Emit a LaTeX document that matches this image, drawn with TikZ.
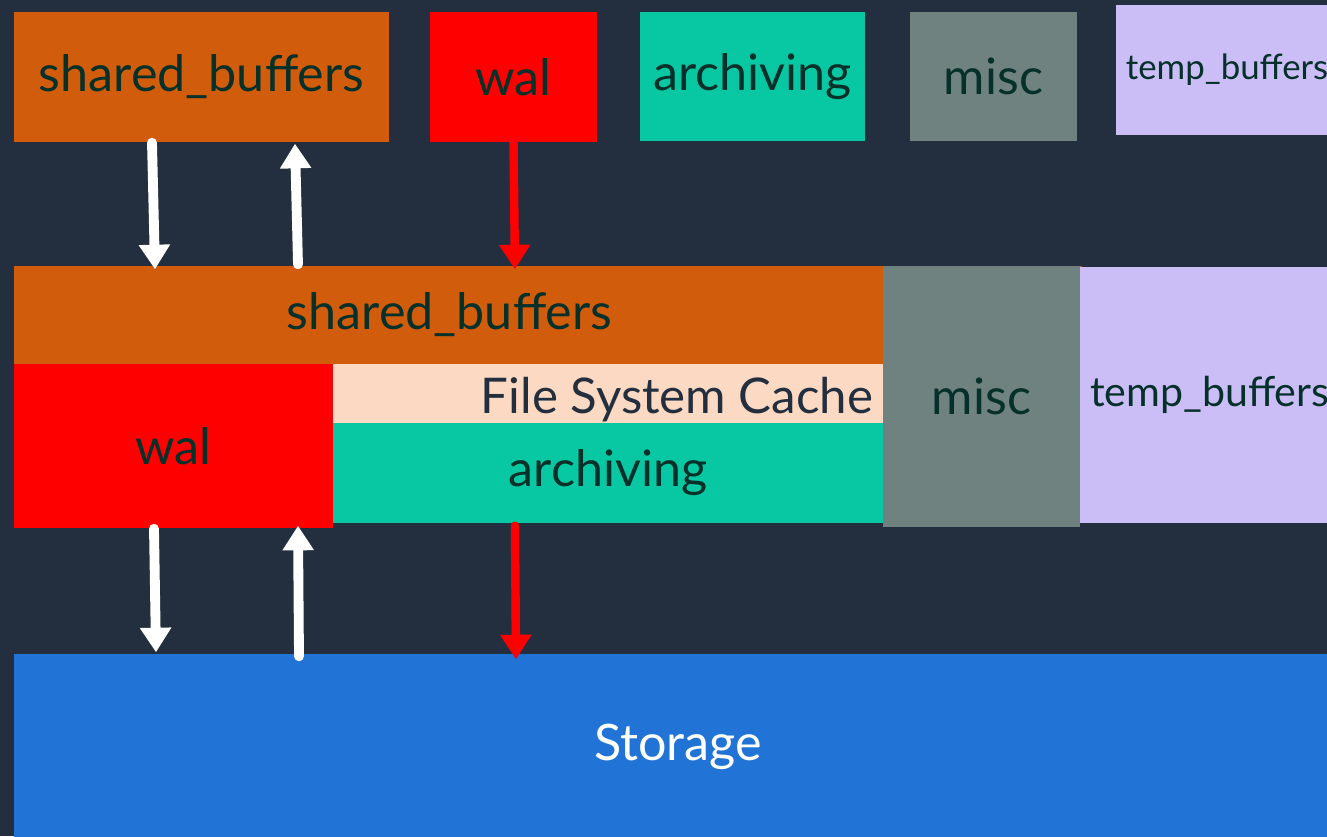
\documentclass[tikz,border=0pt]{standalone}
\usepackage{fontspec}
\setmainfont{Lato}
\usepackage{tikz}
\usetikzlibrary{arrows.meta, positioning, calc}
\definecolor{bgnavy}{HTML}{232F3E}
\definecolor{sborange}{HTML}{D05C0C}
\definecolor{walred}{HTML}{FF0000}
\definecolor{archteal}{HTML}{07C8A2}
\definecolor{miscgray}{HTML}{6F8280}
\definecolor{templav}{HTML}{CBBDF6}
\definecolor{fscpeach}{HTML}{FCD9C2}
\definecolor{storblue}{HTML}{2174D6}
\definecolor{txtdark}{HTML}{06302A}
\tikzstyle{block} = [rectangle, inner sep=0pt, text=txtdark, font=\fontsize{14.3}{16}\selectfont]
\tikzstyle{sbbox} = [block, fill=sborange]
\tikzstyle{walbox} = [block, fill=walred]
\tikzstyle{archbox} = [block, fill=archteal]
\tikzstyle{miscbox} = [block, fill=miscgray]
\tikzstyle{tempbox} = [block, fill=templav]
\tikzstyle{fscbox} = [block, fill=fscpeach]
\tikzstyle{storbox} = [block, fill=storblue, text=white]
\tikzstyle{warrow} = [line width=2.8pt, white, line cap=round, -{Triangle[width=8.5pt,length=7pt]}]
\tikzstyle{rarrow} = [line width=2.4pt, walred, line cap=round, -{Triangle[width=8.5pt,length=7pt]}]
\begin{document}
\begin{tikzpicture}
		\fill[bgnavy] (0,0) rectangle (13.27,-8.36);
		\useasboundingbox (0,0) rectangle (13.27,-8.36);
		
		% top row
		\node (sbtop) [sbbox, minimum width=3.75cm, minimum height=1.30cm] at (2.015,-0.77) {shared\_buffers};
		
		\node (waltop) [walbox, minimum width=1.67cm, minimum height=1.30cm] at (5.135,-0.77) {wal};
		
		\node (archtop) [archbox, minimum width=2.25cm, minimum height=1.29cm] at (7.525,-0.765) {archiving};
		
		\node (misctop) [miscbox, minimum width=1.67cm, minimum height=1.29cm] at (9.935,-0.765) {misc};
		
		\node (temptop) [tempbox, minimum width=2.22cm, minimum height=1.30cm, font=\fontsize{9.9}{12}\selectfont] at (12.27,-0.70) {temp\_buffers};
		
		% memory
		\fill[sborange] (8.85,-2.66) rectangle (10.82,-3.63);
		
		\node (sbmid) [sbbox, minimum width=8.71cm, minimum height=0.98cm] at (4.495,-3.15) {shared\_buffers};
		
		\node (fsc) [fscbox, minimum width=5.50cm, minimum height=0.59cm] at (6.08,-3.935) {};
		\node (fsctext) [anchor=east, inner sep=0pt, text=bgnavy, font=\fontsize{14}{16}\selectfont, xshift=-0.10cm, yshift=-0.06cm] at (fsc.east) {File System Cache};
		
		\node (archmid) [archbox, minimum width=5.50cm, minimum height=1.00cm] at (6.08,-4.73) {archiving};
		
		\node (walmid) [walbox, minimum width=3.19cm, minimum height=1.64cm] at (1.735,-4.46) {wal};
		
		\node (miscmid) [miscbox, minimum width=1.97cm, minimum height=2.61cm] at (9.815,-3.965) {misc};
		
		\node (tempmid) [tempbox, inner xsep=0.10cm, text width=2.27cm, align=left, minimum height=2.56cm, font=\fontsize{11.7}{14}\selectfont] at (12.035,-3.95) {temp\_buffers};
		
		% disk
		\node (stor) [storbox, minimum width=13.28cm, minimum height=1.86cm] at (6.78,-7.47) {Storage};
		
		\draw [warrow] ([xshift=-0.495cm]sbtop.south) -- ([xshift=-2.945cm,yshift=-0.04cm]sbmid.north);
		\draw [warrow] ([xshift=-1.515cm,yshift=0.01cm]sbmid.north) -- ([xshift=0.935cm,yshift=-0.01cm]sbtop.south);
		\draw [rarrow] (waltop.south) -- ([xshift=0.655cm,yshift=-0.04cm]sbmid.north);
		\draw [warrow] ([xshift=-0.195cm]walmid.south) -- ([xshift=-5.22cm,yshift=0.01cm]stor.north);
		\draw [warrow] ([xshift=-3.79cm,yshift=-0.03cm]stor.north) -- ([xshift=1.245cm,yshift=0.03cm]walmid.south);
		\draw [rarrow] ([xshift=-0.93cm,yshift=-0.02cm]archmid.south) -- ([xshift=-1.62cm,yshift=-0.06cm]stor.north);
\end{tikzpicture}
\end{document}
